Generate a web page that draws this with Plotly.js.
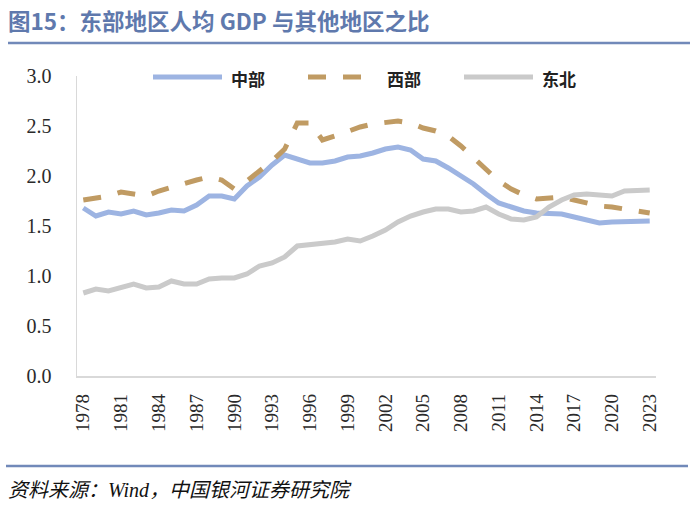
<!DOCTYPE html>
<html><head><meta charset="utf-8">
<script src="https://cdn.plot.ly/plotly-3.0.1.min.js"></script>
<style>html,body{margin:0;padding:0;background:#fff;}#chart{width:700px;height:506px;}</style>
</head><body><div id="chart"></div>
<script>
const years = [1978,1979,1980,1981,1982,1983,1984,1985,1986,1987,1988,1989,1990,1991,1992,1993,1994,1995,1996,1997,1998,1999,2000,2001,2002,2003,2004,2005,2006,2007,2008,2009,2010,2011,2012,2013,2014,2015,2016,2017,2018,2019,2020,2021,2022,2023];
const seriesNames = ["中部","西部","东北"];
const central = [1.68,1.60,1.64,1.62,1.65,1.61,1.63,1.66,1.65,1.71,1.80,1.80,1.77,1.90,1.99,2.11,2.21,2.17,2.13,2.13,2.15,2.19,2.20,2.23,2.27,2.29,2.26,2.17,2.15,2.08,2.00,1.92,1.82,1.73,1.69,1.65,1.63,1.63,1.62,1.59,1.56,1.53,1.54,1.54,1.54,1.55];
const western = [1.76,1.78,1.80,1.84,1.82,1.80,1.85,1.89,1.92,1.96,1.99,1.96,1.87,1.95,2.05,2.15,2.27,2.53,2.53,2.36,2.40,2.45,2.49,2.52,2.54,2.55,2.53,2.48,2.45,2.40,2.30,2.18,2.06,1.95,1.87,1.81,1.77,1.78,1.79,1.76,1.73,1.70,1.69,1.67,1.65,1.63];
const northeast = [0.83,0.87,0.85,0.89,0.92,0.88,0.89,0.95,0.92,0.92,0.97,0.98,0.98,1.02,1.10,1.13,1.19,1.30,1.31,1.32,1.34,1.37,1.35,1.40,1.46,1.54,1.60,1.64,1.67,1.67,1.64,1.65,1.69,1.62,1.57,1.56,1.59,1.69,1.76,1.81,1.82,1.81,1.80,1.85,1.85,1.86];
const xTickYears = [1978,1981,1984,1987,1990,1993,1996,1999,2002,2005,2008,2011,2014,2017,2020,2023];
const yTicks = [0,0.5,1.0,1.5,2.0,2.5,3.0];
const titleText = "图15：东部地区人均 GDP 与其他地区之比";
const sourceText = "资料来源：<i>Wind</i>，中国银河证券研究院";

// styles
const colors = ["#9db4e2","#c09b63","#cacaca"];
const dashes = ["solid","18px,17px","solid"];
const allValues = [central, western, northeast];

const W = 700, H = 506;
const M = {l:77, r:44, t:76, b:130};
const pw = W - M.l - M.r, ph = H - M.t - M.b;
const px = x => (x - M.l) / pw;
const py = y => (H - M.b - y) / ph;

const traces = allValues.map((v,i) => ({
  x: years, y: v, name: seriesNames[i], type: "scatter", mode: "lines",
  line: {color: colors[i], width: 5, dash: dashes[i], shape: "linear"},
  showlegend: false, hoverinfo: "skip"
}));

const serif = "Liberation Serif, DejaVu Serif, serif";
const shapes = [
  {type:"line", xref:"paper", yref:"paper", x0:px(8), x1:px(690), y0:py(43), y1:py(43), line:{color:"#7189b9", width:2.5}},
  {type:"line", xref:"paper", yref:"paper", x0:px(6), x1:px(688), y0:py(466), y1:py(466), line:{color:"#7189b9", width:2.5}}
];
const legendLines = [[153,222],[308,366],[464,533]];
const legendTextX = [229,385,540];
const annotations = [];
seriesNames.forEach((n,i) => {
  shapes.push({type:"line", xref:"paper", yref:"paper", x0:px(legendLines[i][0]), x1:px(legendLines[i][1]), y0:py(77), y1:py(77),
    line:{color:colors[i], width:5, dash:dashes[i]}});
  annotations.push({xref:"paper", yref:"paper", x:px(legendTextX[i]), y:py(78), xanchor:"left", yanchor:"middle",
    text:"<b>"+n+"</b>", showarrow:false, font:{family:"Noto Sans CJK SC", size:17, color:"#222"}});
});
annotations.push({xref:"paper", yref:"paper", x:px(6), y:py(490), xanchor:"left", yanchor:"middle",
  text:sourceText, showarrow:false, font:{family:"Liberation Serif, Noto Sans CJK SC", size:20, color:"#111", style:"italic"}});

const layout = {
  width: W, height: H,
  margin: M,
  paper_bgcolor:"#fff", plot_bgcolor:"#fff",
  title: {text:"<b>"+titleText+"</b>", x: 8/W, xanchor:"left", y: 1 - 22/H, yanchor:"middle",
    font:{family:"Noto Sans CJK SC", size:22.5, color:"#5f79ad"}},
  xaxis: {range:[1977.5, 2023.5], tickmode:"array", tickvals:xTickYears, ticktext:xTickYears.map(String),
    tickangle:-90, showgrid:false, zeroline:false, showline:true, linecolor:"#d9d9d9", linewidth:1.5,
    ticks:"", ticklabelstandoff:9, tickfont:{family:serif, size:19, color:"#2a2a2a"}},
  yaxis: {range:[0,3], tickmode:"array", tickvals:yTicks, ticktext:yTicks.map(v=>v.toFixed(1)),
    showgrid:false, zeroline:false, showline:true, linecolor:"#d9d9d9", linewidth:1.5,
    ticks:"", ticklabelstandoff:20, tickfont:{family:serif, size:20, color:"#2a2a2a"}},
  shapes: shapes, annotations: annotations, showlegend:false
};
Plotly.newPlot("chart", traces, layout, {staticPlot:true, displayModeBar:false});
</script></body></html>
